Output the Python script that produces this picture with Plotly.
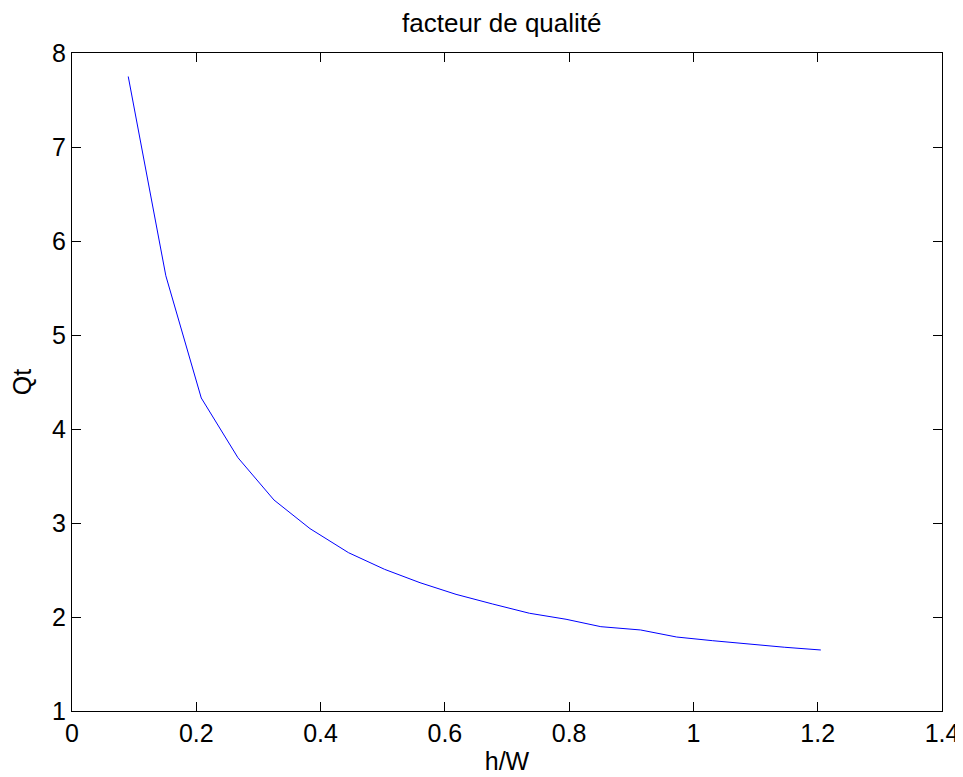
import plotly.graph_objects as go

h_over_w = [0.0905, 0.151, 0.208, 0.267, 0.325, 0.383, 0.445, 0.503, 0.560, 0.618,
            0.677, 0.736, 0.795, 0.851, 0.915, 0.973, 1.031, 1.089, 1.147, 1.205]
qt = [7.75, 5.63, 4.33, 3.695, 3.245, 2.94, 2.684, 2.507, 2.365, 2.241,
      2.138, 2.04, 1.976, 1.897, 1.862, 1.787, 1.748, 1.71, 1.678, 1.649]

x_ticks = [0, 0.2, 0.4, 0.6, 0.8, 1.0, 1.2, 1.4]
x_tick_labels = ["0", "0.2", "0.4", "0.6", "0.8", "1", "1.2", "1.4"]
y_ticks = [1, 2, 3, 4, 5, 6, 7, 8]

font_family = "Liberation Sans, Arial, Helvetica, sans-serif"

fig = go.Figure()
fig.add_trace(go.Scatter(x=h_over_w, y=qt, mode="lines",
                         line=dict(color="rgb(0,0,255)", width=1),
                         showlegend=False, hoverinfo="x+y"))

axis_common = dict(
    showgrid=False, zeroline=False, showline=True, linecolor="black", linewidth=1,
    mirror="allticks", ticks="inside", ticklen=9, tickcolor="black", tickwidth=1,
    tickfont=dict(family=font_family, size=25, color="black"), automargin=False,
)

fig.update_layout(
    width=963, height=777,
    margin=dict(l=64, r=29, t=45, b=74, autoexpand=False),
    paper_bgcolor="white", plot_bgcolor="white",
    font=dict(family=font_family, color="black"),
    title=dict(text="facteur de qualité", x=0.494, xref="paper", xanchor="center",
               y=1, yref="container", yanchor="top", pad=dict(t=6),
               font=dict(family=font_family, size=26, color="black")),
    xaxis=dict(range=[0, 1.4], tickvals=x_ticks, ticktext=x_tick_labels,
               title=dict(text="h/W", font=dict(family=font_family, size=25), standoff=6),
               **axis_common),
    yaxis=dict(range=[1, 8], tickvals=y_ticks,
               title=dict(text="Qt", font=dict(family=font_family, size=25), standoff=14),
               **axis_common),
)

fig.write_html("out.html")
